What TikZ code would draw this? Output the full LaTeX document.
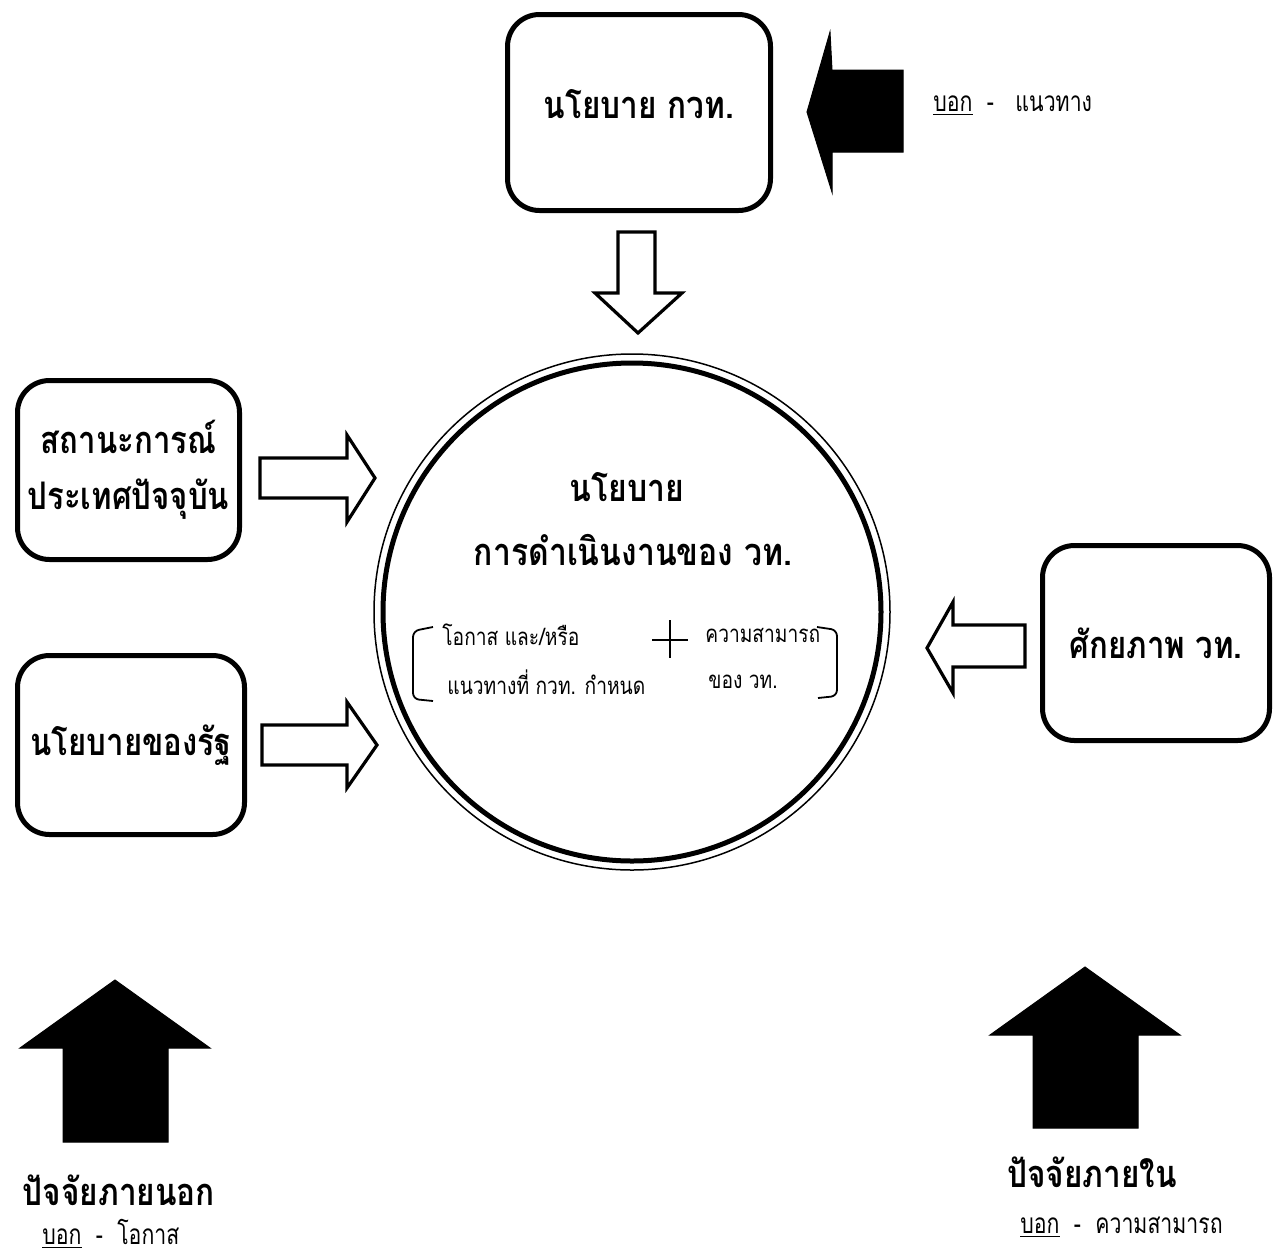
\documentclass[tikz,border=0pt]{standalone}
\usepackage{fontspec}
\usepackage{graphicx}
\newfontfamily\thai[Script=Thai]{Loma}
\newcommand\cnd[2]{\scalebox{#1}[1]{#2}}
\begin{document}
\begin{tikzpicture}[x=0.5pt,y=-0.5pt,
  box/.style={draw, line width=2.5pt, rounded corners=16pt, align=center, inner sep=0pt,
    font=\thai\bfseries\fontsize{19}{28}\selectfont},
  hollow/.style={draw, line width=1.6pt, fill=white, line join=miter},
  solidarrow/.style={fill=black, draw=black, line width=0.5pt, line join=miter},
  ttl/.style={font=\thai\bfseries\fontsize{19}{22}\selectfont, inner sep=0pt},
  lbl/.style={font=\thai\fontsize{14}{16}\selectfont, anchor=west, inner sep=0pt},
  sml/.style={font=\thai\fontsize{12}{14}\selectfont, anchor=west, inner sep=0pt},
  brk/.style={line width=0.9pt, rounded corners=3pt}]
\useasboundingbox (0,0) rectangle (1281,1259);
\fill[white] (0,0) rectangle (1281,1259);

% boxes
\node[box, minimum width=131.5pt, minimum height=98pt] (kwt) at (639,112.5) {\raisebox{9pt}{\cnd{0.83}{นโยบาย กวท.}}};
\node[box, minimum width=111pt, minimum height=89.5pt] (sit) at (128.5,470) {\cnd{0.82}{สถานะการณ์}\\\cnd{0.82}{ประเทศปัจจุบัน}};
\node[box, minimum width=113.5pt, minimum height=89.5pt] (gov) at (131,745) {\cnd{0.82}{นโยบายของรัฐ}};
\node[box, minimum width=113.5pt, minimum height=97.5pt] (cap) at (1156,643) {\raisebox{-7pt}{\cnd{0.82}{ศักยภาพ วท.}}};

% central circle
\node[circle, draw, line width=2.5pt, minimum size=249pt, inner sep=0pt] (pol) at (632,612) {};
\draw[line width=0.75pt] (pol.center) circle[radius=129pt];

\node[ttl] (t1) at (627,487) {\cnd{0.84}{นโยบาย}};
\node[ttl] (t2) at (633,550) {\cnd{0.84}{การดำเนินงานของ วท.}};

\node[sml] (s1) at (442,635) {\cnd{0.8}{โอกาส และ/หรือ}};
\node[sml] (s2) at (447,682) {\cnd{0.8}{แนวทางที่ กวท. กำหนด}};
\node[sml] (s3) at (705,635) {\cnd{0.8}{ความสามารถ}};
\node[sml] (s4) at (708,682) {\cnd{0.8}{ของ วท.}};

\draw[brk] (433,627) -- (413,631) -- (413,699) -- (433,701);
\draw[brk] (817,627) -- (837,630) -- (837,696) -- (818,698);
\draw[line width=0.7pt] (652,640) -- (688,640) (670,620) -- (670,658);

% hollow arrows
\draw[hollow] (618,232) -- (655,232) -- (655,293) -- (682,293) -- (638,333) -- (595,293) -- (618,293) -- cycle;
\draw[hollow] (260,458) -- (347,458) -- (347,435) -- (375,478) -- (347,522) -- (347,498) -- (260,498) -- cycle;
\draw[hollow] (262,725) -- (347,725) -- (347,702) -- (377,745) -- (347,788) -- (347,765) -- (262,765) -- cycle;
\draw[hollow] (1025,625) -- (953,625) -- (953,602) -- (927,648) -- (953,693) -- (953,667) -- (1025,667) -- cycle;

% solid arrows
\draw[solidarrow] (903,70) -- (832,70) -- (830,32) -- (807,112) -- (832,192) -- (832,152) -- (903,152) -- cycle;
\draw[solidarrow] (115,980) -- (210,1048) -- (168,1048) -- (168,1142) -- (63,1142) -- (63,1048) -- (20,1048) -- cycle;
\draw[solidarrow] (1085,967) -- (1180,1035) -- (1138,1035) -- (1138,1128) -- (1033,1128) -- (1033,1035) -- (990,1035) -- cycle;

% labels
\node[lbl] (g1) at (933,106) {\cnd{0.76}{\underline{บอก}\ \ -\ \ \ แนวทาง}};
\node[ttl] (ext) at (119,1190) {\cnd{0.83}{ปัจจัยภายนอก}};
\node[lbl] (g2) at (42,1234) {\cnd{0.76}{\underline{บอก}\ \ -\ \ โอกาส}};
\node[ttl] (int) at (1092,1172) {\cnd{0.83}{ปัจจัยภายใน}};
\node[lbl] (g3) at (1020,1227) {\cnd{0.76}{\underline{บอก}\ \ -\ \ ความสามารถ}};
\end{tikzpicture}
\end{document}
